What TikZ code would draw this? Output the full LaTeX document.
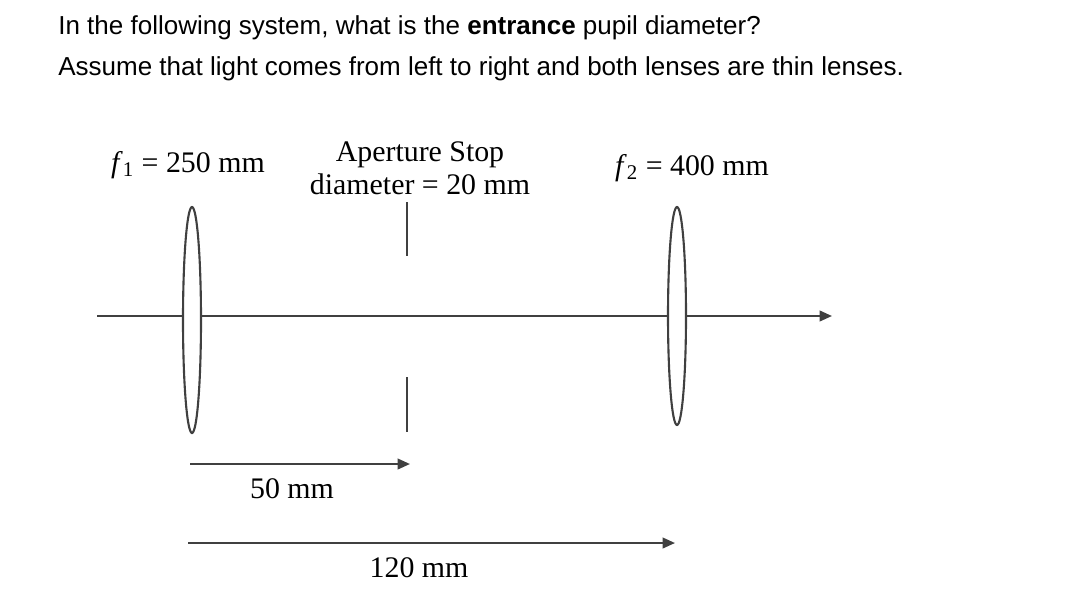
\documentclass[tikz,border=0pt]{standalone}
\usepackage{fontspec}
\setmainfont{Liberation Serif}
\newfontfamily\qfont{Liberation Sans}
\usetikzlibrary{arrows.meta}
\begin{document}
\begin{tikzpicture}[x=0.02cm,y=-0.02cm,
  ln/.style={draw=black!75, line width=1.2pt},
  lens/.style={ln, fill=white},
  dimarrow/.style={ln, -{Triangle[length=7pt,width=6pt]}},
  lbl/.style={font=\fontsize{17}{19}\selectfont, align=center, inner sep=0pt},
  qtxt/.style={font=\qfont\fontsize{14.8}{18}\selectfont, anchor=west, inner sep=0pt}]
\useasboundingbox (0,0) rectangle (1084,592);
\node[qtxt] (q1) at (58,28) {In the following system, what is the \textbf{entrance} pupil diameter?};
\node[qtxt] (q2) at (58,69) {Assume that light comes from left to right and both lenses are thin lenses.};
\coordinate (axL) at (97,316);
\coordinate (axR) at (832,316);
\draw[dimarrow] (axL) -- (axR);
\draw[lens] (192,320) ellipse [x radius=9, y radius=113];
\draw[lens] (677,316) ellipse [x radius=9, y radius=109];
\draw[ln] (407,202) -- (407,256);
\draw[ln] (407,377) -- (407,432);
\node[lbl] (f1) at (188,165) {\textit{f}\textsubscript{1} = 250 mm};
\node[lbl] (as) at (420,168) {Aperture Stop\\diameter = 20 mm};
\node[lbl] (f2) at (692,168) {\textit{f}\textsubscript{2} = 400 mm};
\coordinate (a1) at (190,464); \coordinate (a2) at (410,464);
\draw[dimarrow] (a1) -- (a2);
\node[lbl] (l50) at (292,489) {50 mm};
\coordinate (b1) at (188,543); \coordinate (b2) at (675,543);
\draw[dimarrow] (b1) -- (b2);
\node[lbl] (l120) at (419,568) {120 mm};
\end{tikzpicture}
\end{document}
